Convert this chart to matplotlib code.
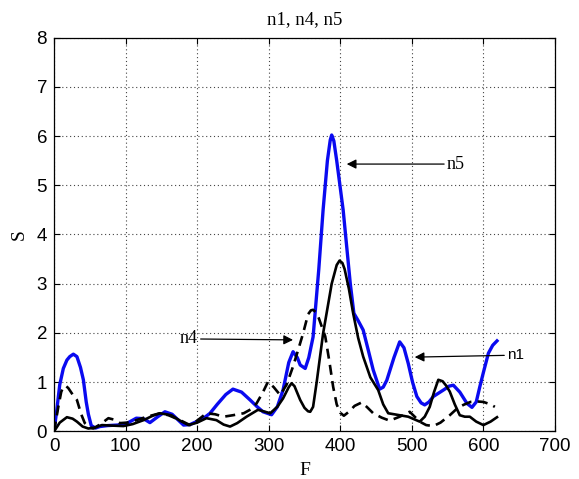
import matplotlib
matplotlib.use("Agg")
import matplotlib.pyplot as plt

# ---- data ----
blue_x = [0, 4, 8, 13, 18, 22, 27, 32, 37, 41, 45, 48, 52, 58, 64, 75, 88, 100, 115, 125, 134, 145,
          155, 165, 181, 190, 199, 210, 218, 228, 240, 250, 262, 274, 284, 292, 304, 312, 320, 328,
          334, 340, 344, 351, 356, 362, 370, 376, 382, 386, 388, 391, 395, 404, 410, 414, 419, 425,
          432, 440, 446, 455, 460, 465, 475, 483, 489, 495, 501, 507, 513, 518, 524, 530, 545, 552,
          558, 567, 577, 584, 590, 595, 600, 607, 613, 619]
blue_y = [0, 0.45, 0.95, 1.28, 1.45, 1.52, 1.57, 1.52, 1.3, 1.05, 0.6, 0.35, 0.12, 0.07, 0.1, 0.12,
          0.13, 0.15, 0.27, 0.26, 0.18, 0.3, 0.4, 0.35, 0.13, 0.14, 0.2, 0.28, 0.37, 0.55, 0.75, 0.86,
          0.8, 0.64, 0.5, 0.4, 0.34, 0.5, 0.84, 1.4, 1.62, 1.5, 1.35, 1.28, 1.5, 1.92, 3.3, 4.5, 5.5,
          5.92, 6.02, 5.9, 5.5, 4.5, 3.6, 3.0, 2.4, 2.25, 2.06, 1.6, 1.25, 0.86, 0.9, 1.04, 1.5, 1.82,
          1.7, 1.38, 1.0, 0.71, 0.58, 0.54, 0.6, 0.71, 0.85, 0.92, 0.94, 0.8, 0.57, 0.49, 0.6, 0.91,
          1.2, 1.59, 1.75, 1.84]

solid_x = [0, 8, 18, 26, 32, 40, 48, 57, 67, 80, 97, 110, 125, 138, 148, 156, 164, 176, 188, 200,
           213, 227, 237, 246, 256, 269, 285, 295, 302, 312, 320, 328, 332, 336, 340, 344, 350, 355,
           358, 362, 367, 376, 388, 395, 399, 403, 406, 412, 418, 425, 432, 442, 453, 460, 467, 483,
           495, 511, 518, 525, 531, 537, 543, 548, 553, 560, 567, 574, 581, 590, 600, 610, 619]
solid_y = [0, 0.18, 0.29, 0.26, 0.2, 0.1, 0.06, 0.08, 0.13, 0.12, 0.11, 0.15, 0.23, 0.32, 0.37,
           0.35, 0.33, 0.22, 0.13, 0.18, 0.27, 0.23, 0.14, 0.1, 0.17, 0.3, 0.44, 0.4, 0.37, 0.5, 0.67,
           0.9, 0.98, 0.92, 0.78, 0.64, 0.48, 0.41, 0.4, 0.5, 1.0, 1.99, 3.0, 3.38, 3.47, 3.42, 3.3,
           2.9, 2.4, 1.9, 1.52, 1.1, 0.84, 0.55, 0.37, 0.33, 0.3, 0.2, 0.3, 0.5, 0.8, 1.05, 1.02, 0.93,
           0.81, 0.55, 0.33, 0.3, 0.3, 0.2, 0.13, 0.2, 0.29]

dash_x = [0, 6, 10, 13, 17, 20, 26, 32, 38, 43, 50, 55, 65, 76, 84, 92, 102, 115, 130, 148, 160, 176,
          190, 200, 213, 225, 237, 250, 265, 275, 283, 292, 299, 307, 316, 325, 334, 341, 348, 355,
          359, 362, 366, 370, 379, 385, 390, 395, 400, 405, 412, 420, 430, 437, 446, 458, 469, 483,
          497, 504, 511, 520, 530, 540, 553, 562, 572, 582, 591, 600, 610, 616]
dash_y = [0, 0.5, 0.8, 0.91, 0.92, 0.88, 0.75, 0.64, 0.35, 0.17, 0.08, 0.06, 0.15, 0.27, 0.24, 0.17,
          0.18, 0.23, 0.3, 0.37, 0.33, 0.23, 0.13, 0.22, 0.37, 0.35, 0.3, 0.33, 0.37, 0.45, 0.57, 0.8,
          1.01, 0.9, 0.74, 0.95, 1.32, 1.65, 1.99, 2.38, 2.46, 2.47, 2.42, 2.3, 1.93, 1.4, 0.91, 0.55,
          0.38, 0.32, 0.4, 0.52, 0.59, 0.5, 0.37, 0.28, 0.22, 0.3, 0.4, 0.3, 0.2, 0.13, 0.11, 0.18,
          0.33, 0.45, 0.54, 0.6, 0.61, 0.6, 0.55, 0.5]

x_ticks = [0, 100, 200, 300, 400, 500, 600, 700]
y_ticks = [0, 1, 2, 3, 4, 5, 6, 7, 8]

title_text = "n1, n4, n5"
x_label = "F"
y_label = "S"

serif = ["Liberation Serif", "DejaVu Serif"]
sans = ["Liberation Sans", "DejaVu Sans"]

fig = plt.figure(figsize=(5.79, 4.79), dpi=100)
ax = fig.add_axes([0.0933, 0.0992, 0.8652, 0.8225])

ax.plot(blue_x, blue_y, color="#0a0af0", lw=2.4, solid_joinstyle="round")
ax.plot(solid_x, solid_y, color="black", lw=1.9, solid_joinstyle="round")
ax.plot(dash_x, dash_y, color="black", lw=1.9, dashes=(3.8, 2.4))

ax.set_xlim(0, 700)
ax.set_ylim(0, 8)
ax.set_xticks(x_ticks)
ax.set_yticks(y_ticks)
ax.tick_params(direction="in", top=True, right=True, length=4, width=0.8, labelsize=13.5, pad=5)
for lab in ax.get_xticklabels() + ax.get_yticklabels():
    lab.set_family(sans)
ax.grid(True, linestyle=(0, (1, 2.5)), color="#444444", lw=0.8)
for s in ax.spines.values():
    s.set_linewidth(0.9)

ax.set_title(title_text, family=serif, fontsize=13.5, pad=10)
ax.set_xlabel(x_label, family=serif, fontsize=14, labelpad=5)
ax.set_ylabel(y_label, family=serif, fontsize=14, labelpad=6)

arrow = dict(arrowstyle="-|>", color="black", lw=0.9, mutation_scale=14,
             shrinkA=0, shrinkB=0)
ax.annotate("n5", xy=(409, 5.43), xytext=(549, 5.43), family=serif, fontsize=13,
            va="center", ha="left", arrowprops=arrow)
ax.annotate("n4", xy=(334, 1.86), xytext=(201, 1.88), family=serif, fontsize=13,
            va="center", ha="right", arrowprops=arrow)
ax.annotate("n1", xy=(504, 1.51), xytext=(633, 1.55), family=sans, fontsize=11,
            va="center", ha="left", arrowprops=arrow)

fig.savefig("out.png", dpi=100)
